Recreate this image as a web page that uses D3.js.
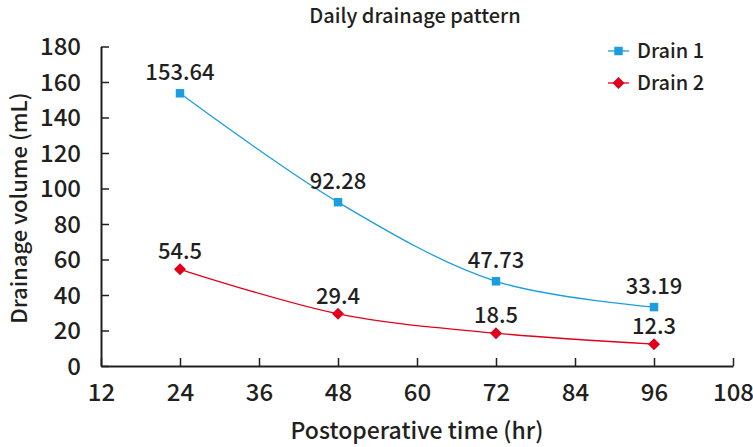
<!DOCTYPE html>
<html><head><meta charset="utf-8">
<script src="https://cdn.jsdelivr.net/npm/d3@7"></script>
<style>body{margin:0;background:#fff}svg{display:block}text{font-family:"Noto Sans CJK KR","Noto Sans",sans-serif;fill:#231f20}</style>
</head><body>
<script>
const hours = [24, 48, 72, 96];
const drain1 = [153.64, 92.28, 47.73, 33.19];
const drain2 = [54.5, 29.4, 18.5, 12.3];
const seriesNames = ["Drain 1", "Drain 2"];
const xTicks = [12, 24, 36, 48, 60, 72, 84, 96, 108];
const yTicks = [0, 20, 40, 60, 80, 100, 120, 140, 160, 180];

const W = 753, H = 447;
const FF = "'Noto Sans CJK KR', 'Noto Sans', sans-serif";
const svg = d3.select("body").append("svg").attr("width", W).attr("height", H);
const x = d3.scaleLinear().domain([12, 108]).range([101, 733]);
const y = d3.scaleLinear().domain([0, 180]).range([366, 46.5]);
const ink = "#231f20";

const gx = svg.append("g").attr("transform", `translate(0,${y(0)})`)
  .call(d3.axisBottom(x).tickValues(xTicks).tickSize(-8).tickSizeOuter(0).tickPadding(13).tickFormat(d3.format("d")));
const gy = svg.append("g").attr("transform", `translate(${x(12)},0)`)
  .call(d3.axisLeft(y).tickValues(yTicks).tickSize(-8).tickSizeOuter(0).tickPadding(20).tickFormat(d3.format("d")));
[gx, gy].forEach(g => {
  g.select(".domain").attr("stroke", ink).attr("stroke-width", 2);
  g.selectAll(".tick line").attr("stroke", ink).attr("stroke-width", 1.5);
  g.selectAll(".tick text").attr("font-size", 24).attr("font-weight", 500)
    .attr("font-family", FF).attr("fill", ink);
});
gy.selectAll(".tick text").attr("dy", "0.35em");
gx.selectAll(".tick text").attr("dy", "0.9em");

const series = [
  {name: seriesNames[0], vals: drain1, color: "#1a9ee0", rot: 0, off: 13},
  {name: seriesNames[1], vals: drain2, color: "#e0001b", rot: 45, off: 10}
];
const marker = d3.symbol().type(d3.symbolSquare).size(72);
const line = d3.line().x(d => x(d[0])).y(d => y(d[1])).curve(d3.curveCatmullRom.alpha(0.5));

series.forEach(s => {
  const pts = hours.map((h, i) => [h, s.vals[i]]);
  svg.append("path").attr("d", line(pts)).attr("fill", "none").attr("stroke", s.color).attr("stroke-width", 1.3);
  svg.selectAll(null).data(pts).enter().append("path")
    .attr("d", marker)
    .attr("transform", d => `translate(${x(d[0])},${y(d[1])}) rotate(${s.rot})`).attr("fill", s.color);
  svg.selectAll(null).data(pts).enter().append("text")
    .attr("x", d => x(d[0])).attr("y", d => y(d[1]) - s.off)
    .attr("text-anchor", "middle").attr("font-size", 22).attr("font-weight", 500)
    .text(d => String(d[1]));
});

series.forEach((s, i) => {
  const ly = 51 + i * 32;
  svg.append("line").attr("x1", 608).attr("x2", 629).attr("y1", ly).attr("y2", ly)
    .attr("stroke", s.color).attr("stroke-width", 1.3);
  svg.append("path").attr("d", marker)
    .attr("transform", `translate(618.5,${ly}) rotate(${s.rot})`).attr("fill", s.color);
  svg.append("text").attr("x", 637).attr("y", ly).attr("dy", "0.35em")
    .attr("font-size", 20).attr("font-weight", 500).text(s.name);
});

svg.append("text").attr("x", 415).attr("y", 23).attr("text-anchor", "middle")
  .attr("font-size", 20).attr("font-weight", 500).text("Daily drainage pattern");
svg.append("text").attr("x", 417).attr("y", 439).attr("text-anchor", "middle")
  .attr("font-size", 23).attr("font-weight", 500).text("Postoperative time (hr)");
svg.append("text").attr("transform", "translate(27,208) rotate(-90)").attr("text-anchor", "middle")
  .attr("font-size", 22).attr("font-weight", 500).text("Drainage volume (mL)");
</script>
</body></html>
